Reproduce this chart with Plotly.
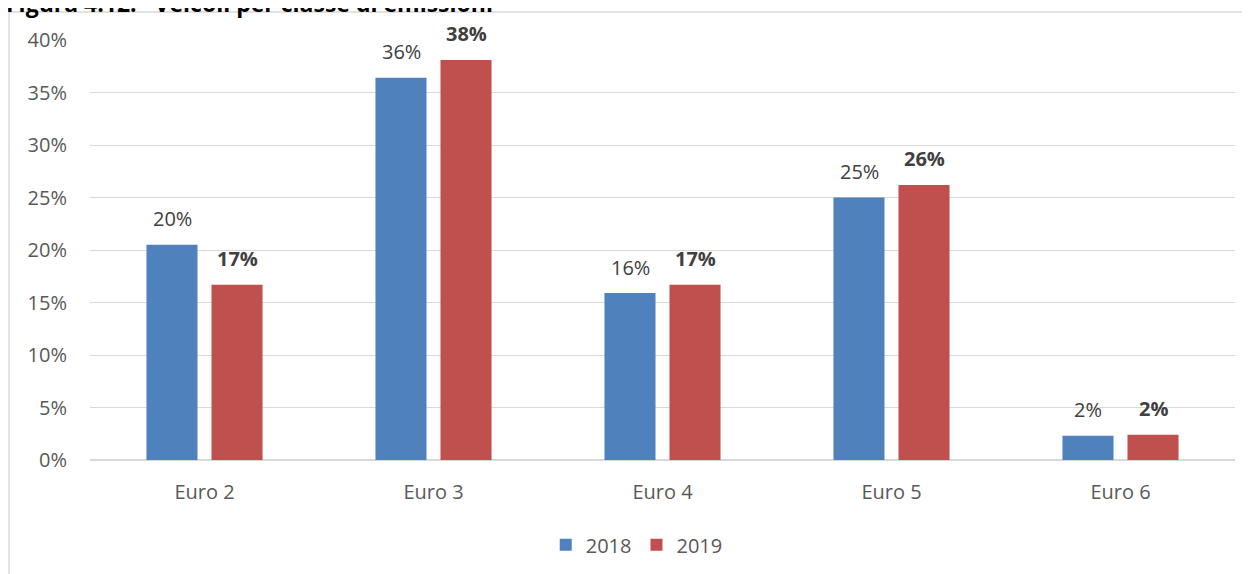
import plotly.graph_objects as go

categorie = ["Euro 2", "Euro 3", "Euro 4", "Euro 5", "Euro 6"]
anni = ["2018", "2019"]
quota_2018 = [0.205, 0.364, 0.159, 0.250, 0.023]
quota_2019 = [0.167, 0.381, 0.167, 0.262, 0.024]
colori = ["#4F81BD", "#C0504D"]

font_base = "Open Sans"
grigio_testo = "#595959"
grigio_label = "#404040"

fig = go.Figure()
for anno, valori, colore in zip(anni, [quota_2018, quota_2019], colori):
    fig.add_trace(go.Bar(
        x=categorie, y=valori, name=anno,
        marker=dict(color=colore, line=dict(color=colore, width=0)),
    ))

# etichette sopra le barre (2019 in grassetto)
for i, (anno, valori) in enumerate(zip(anni, [quota_2018, quota_2019])):
    for cat, v in zip(categorie, valori):
        testo = f"{v:.0%}"
        if anno == "2019":
            testo = f"<b>{testo}</b>"
        fig.add_annotation(
            x=cat, y=v, text=testo, showarrow=False,
            xshift=-32.5 if i == 0 else 32.5, yshift=26, yanchor="middle",
            font=dict(family=font_base, size=20, color=grigio_label),
        )

# titolo tagliato in alto
fig.add_annotation(
    xref="paper", yref="paper", x=-0.0755, y=1.087, xanchor="left", yanchor="middle",
    text="<b>Figura 4.12:   Veicoli per classe di emissioni</b>", showarrow=False,
    font=dict(family=font_base, size=23, color="#000000"),
)

# bordo dell'area del grafico
fig.add_shape(
    type="rect", xref="paper", yref="paper",
    x0=-0.0707, y0=-0.4, x1=1.05, y1=1.0667,
    line=dict(color="#D9D9D9", width=1.5), layer="below",
)

fig.update_layout(
    width=1250, height=574,
    margin=dict(l=82, r=23, t=32, b=122, autoexpand=False),
    plot_bgcolor="white", paper_bgcolor="white",
    barmode="group", bargap=0.432, bargroupgap=0.215,
    font=dict(family=font_base, size=20, color=grigio_testo),
    legend=dict(orientation="h", x=0.4775, xanchor="center", y=-0.202, yanchor="middle",
                font=dict(size=20, color=grigio_testo), itemwidth=30),
    showlegend=True,
)
fig.update_yaxes(
    range=[0, 0.40], dtick=0.05, tickformat=".0%",
    showgrid=True, gridcolor="#D9D9D9", gridwidth=1,
    zeroline=True, zerolinecolor="#D9D9D9", zerolinewidth=1.5,
    ticklabelstandoff=22, showline=False, automargin=False,
)
fig.update_xaxes(
    showline=False, ticks="", ticklabelstandoff=18, automargin=False,
)

fig.write_html("out.html")
